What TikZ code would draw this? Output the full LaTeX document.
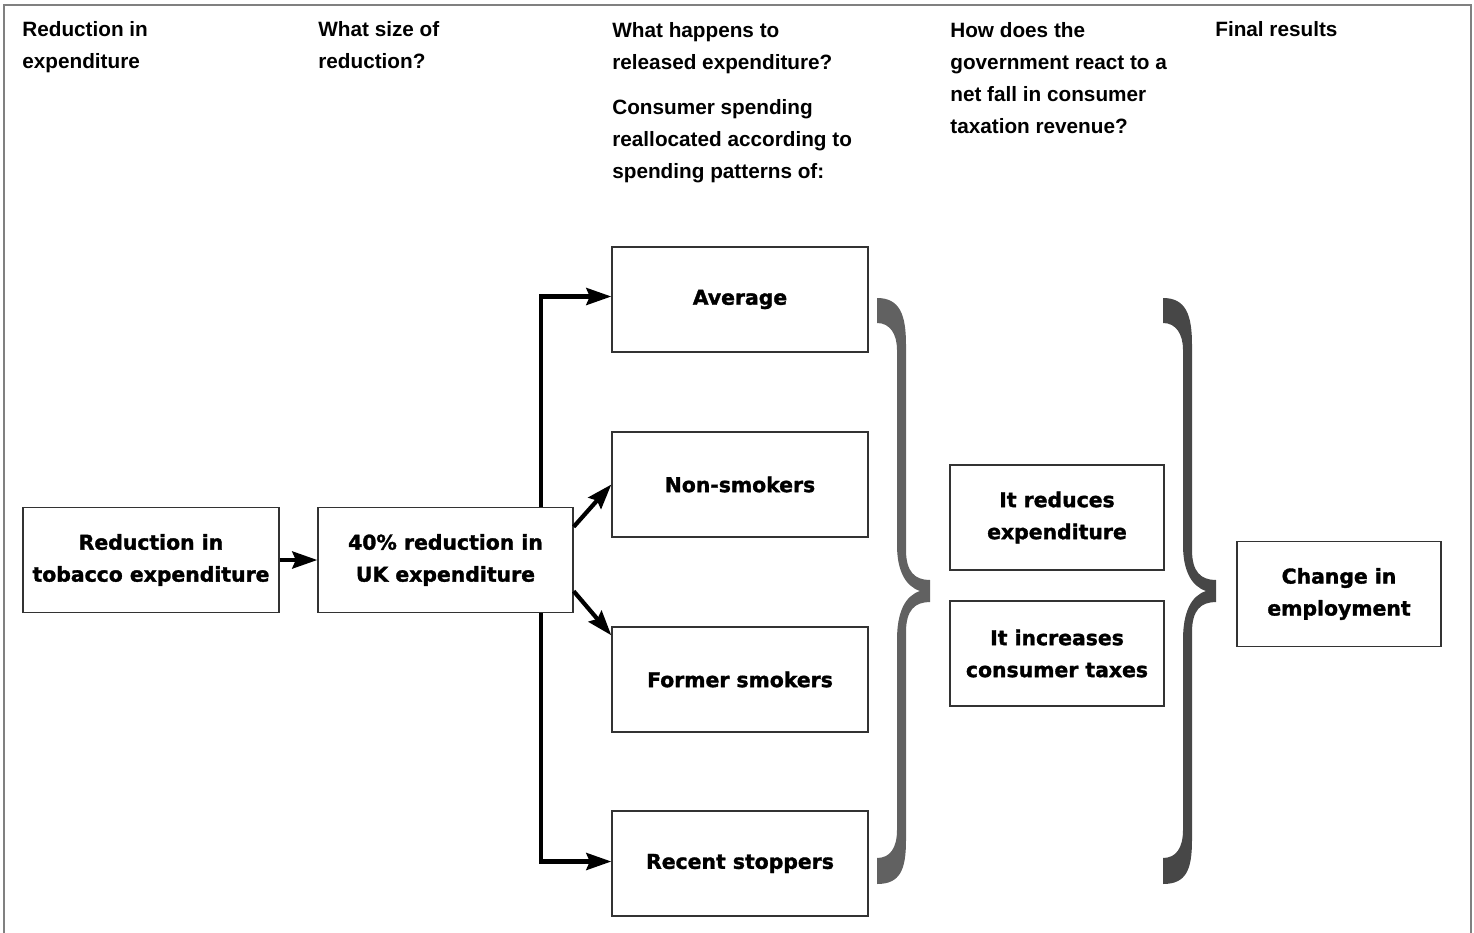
\documentclass[tikz,border=0pt]{standalone}
\usepackage{fontspec}
\setmainfont{Liberation Sans}
\newfontfamily\boxfont{DejaVu Sans}[BoldFeatures={FakeBold=1.6}]
\usepackage{tikz}
\usetikzlibrary{arrows.meta,positioning}

\tikzset{
    curly/.pic={
        \path[pic actions] (0,0) .. controls (23,0) and (29,17) .. (29,47) -- (29,252)
            .. controls (29,274) and (38,282) .. (53,282) -- (53,304)
            .. controls (38,304) and (29,312) .. (29,334) -- (29,542)
            .. controls (29,572) and (23,586) .. (0,586) -- (0,560)
            .. controls (13,560) and (20,550) .. (20,532) -- (20,342)
            .. controls (20,314) and (28,298) .. (43,293)
            .. controls (28,288) and (20,272) .. (20,247) -- (20,52)
            .. controls (20,36) and (13,25) .. (0,25) -- cycle;
    }
}

\begin{document}
\begin{tikzpicture}[
    x=0.02cm, y=-0.02cm,
    head/.style={anchor=north west, inner sep=0pt, align=left, font=\fontsize{11.8}{18.2}\selectfont\bfseries},
    box/.style={rectangle, draw=black!80, line width=0.8pt, align=center, inner sep=0pt,
        minimum width=5.12cm, minimum height=2.1cm, font=\boxfont\fontsize{11.6}{18.2}\selectfont\bfseries},
    arrow/.style={-{Stealth[length=0.5cm, width=0.34cm, inset=0.07cm]}, line width=2.4pt}
]
    \useasboundingbox (0,0) rectangle (1474,933);
    \draw[gray, line width=0.8pt] (4,933) -- (4,5) -- (1471,5) -- (1471,933);

    % column headings
    \node[head] (H1) at (22,21) {Reduction in\\expenditure};
    \node[head] (H2) at (318,21) {What size of\\reduction?};
    \node[head] (H3) at (612,22) {What happens to\\released expenditure?};
    \node[head] (H3b) at (612,99) {Consumer spending\\reallocated according to\\spending patterns of:};
    \node[head] (H4) at (950,22) {How does the\\government react to a\\net fall in consumer\\taxation revenue?};
    \node[head] (H5) at (1215,21) {Final results};

    % boxes
    \node[box] (TOB) at (151,560) {Reduction in\\tobacco expenditure};
    \node[box, minimum width=5.1cm] (UK) at (445.5,560) {40\% reduction in\\UK expenditure};
    \node[box] (AVG) at (740,299.5) {Average};
    \node[box] (NON) at (740,484.5) {Non-smokers};
    \node[box] (FORM) at (740,679.5) {Former smokers};
    \node[box] (REC) at (740,863.5) {Recent stoppers};
    \node[box, minimum width=4.28cm] (CUT) at (1057,517.5) {It reduces\\expenditure};
    \node[box, minimum width=4.28cm] (TAX) at (1057,653.5) {It increases\\consumer taxes};
    \node[box, minimum width=4.08cm] (EMP) at (1339,594) {Change in\\employment};

    \coordinate (split) at (541,560);

    \draw[arrow] (TOB) -- (UK);
    \draw[arrow] (UK.north -| split) |- ([yshift=0.06cm]AVG.west);
    \draw[arrow] (UK.south -| split) |- ([yshift=0.04cm]REC.west);
    \draw[arrow] ([yshift=-0.4cm]UK.north east) -- (NON.west);
    \draw[arrow] ([yshift=0.44cm]UK.south east) -- ([yshift=-0.18cm]FORM.north west);

    % braces
    \pic[fill=black!62] at (877,298) {curly};
    \pic[fill=black!72] at (1163,298) {curly};
\end{tikzpicture}
\end{document}
